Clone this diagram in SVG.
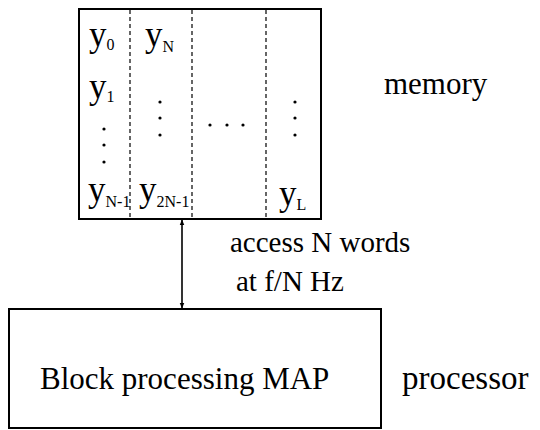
<svg xmlns="http://www.w3.org/2000/svg" width="540" height="430" viewBox="0 0 540 430">
  <style>
    .box { fill: #fff; stroke: #000; stroke-width: 2; }
    .col { stroke: #000; stroke-width: 1.2; stroke-dasharray: 4 3; fill: none; }
    .t { font-family: "Times New Roman", "Liberation Serif", "DejaVu Serif", serif; fill: #000; }
    .v { font-size: 35px; }
    .s { font-size: 16px; }
    .lbl { font-size: 31px; }
    .note { font-size: 29px; }
    .dot { fill: #000; }
    .link { stroke: #000; stroke-width: 1.6; fill: none; }
  </style>
  <defs>
    <marker id="head" viewBox="0 0 10 10" refX="9" refY="5" markerWidth="6" markerHeight="8" orient="auto-start-reverse" markerUnits="userSpaceOnUse">
      <path d="M0,1 L10,5 L0,9 Z" fill="#000"/>
    </marker>
  </defs>

  <g id="memory">
    <rect class="box" x="79" y="9" width="242" height="210"/>
    <line class="col" x1="130" y1="10" x2="130" y2="218"/>
    <line class="col" x1="192" y1="10" x2="192" y2="218"/>
    <line class="col" x1="266" y1="10" x2="266" y2="218"/>

    <text class="t v" x="89" y="46">y<tspan class="s" dy="4">0</tspan></text>
    <text class="t v" x="89" y="98">y<tspan class="s" dy="4">1</tspan></text>
    <text class="t v" x="88" y="201">y<tspan class="s" dy="6">N-1</tspan></text>

    <text class="t v" x="145" y="46">y<tspan class="s" dy="6">N</tspan></text>
    <text class="t v" x="139" y="201">y<tspan class="s" dy="6">2N-1</tspan></text>

    <text class="t v" x="279" y="205">y<tspan class="s" dy="5">L</tspan></text>

    <circle class="dot" cx="104" cy="129" r="1.6"/>
    <circle class="dot" cx="104" cy="145" r="1.6"/>
    <circle class="dot" cx="104" cy="162" r="1.6"/>

    <circle class="dot" cx="160" cy="102" r="1.6"/>
    <circle class="dot" cx="160" cy="118" r="1.6"/>
    <circle class="dot" cx="160" cy="135" r="1.6"/>

    <circle class="dot" cx="210" cy="125" r="1.6"/>
    <circle class="dot" cx="227" cy="125" r="1.6"/>
    <circle class="dot" cx="243" cy="125" r="1.6"/>

    <circle class="dot" cx="295" cy="102" r="1.6"/>
    <circle class="dot" cx="295" cy="118" r="1.6"/>
    <circle class="dot" cx="295" cy="135" r="1.6"/>

    <text class="t lbl" x="384" y="94">memory</text>
  </g>

  <g id="processor">
    <rect class="box" x="9" y="309" width="372" height="119"/>
    <text class="t lbl" x="40" y="389">Block processing MAP</text>
    <text class="t lbl" x="402" y="389" style="font-size:33px">processor</text>
  </g>

  <g id="connectors">
    <line class="link" x1="182" y1="220" x2="182" y2="308" marker-start="url(#head)" marker-end="url(#head)"/>
    <text class="t note" x="230" y="252">access N words</text>
    <text class="t note" x="236" y="291">at f/N Hz</text>
  </g>
</svg>
